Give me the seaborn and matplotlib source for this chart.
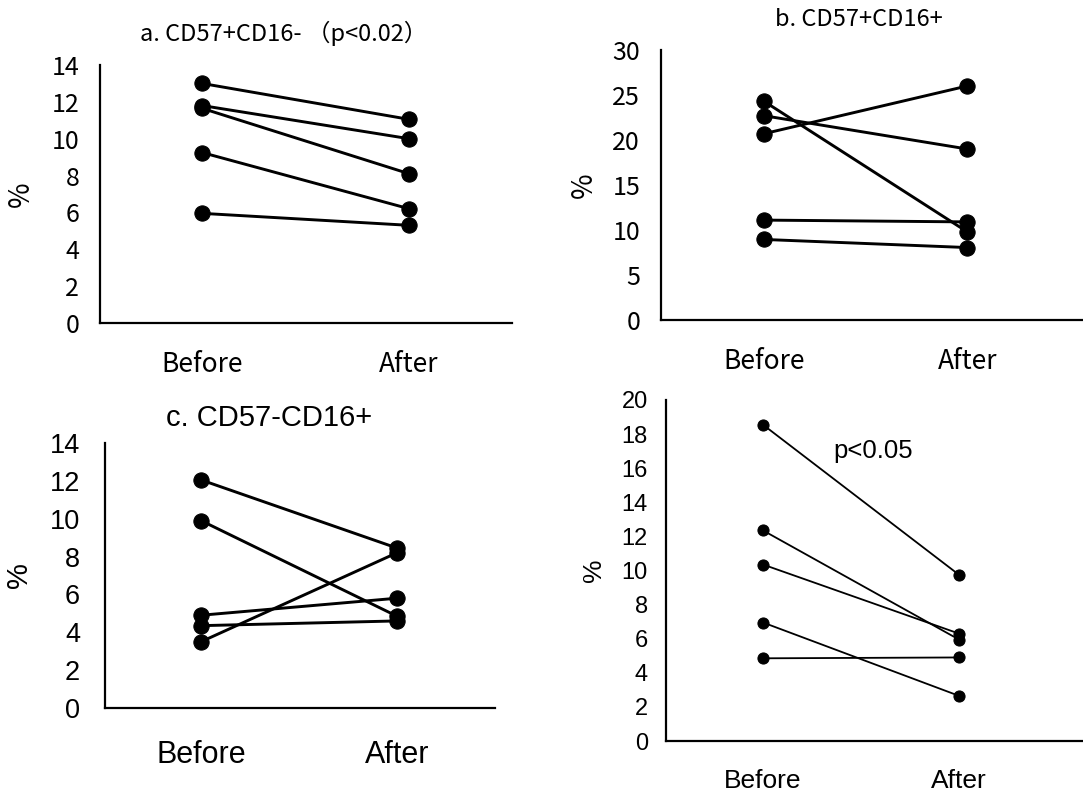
import matplotlib
matplotlib.use("Agg")
import matplotlib.pyplot as plt
import seaborn as sns
import pandas as pd

sns.set_theme(style="white")
plt.rcParams['font.family'] = ['Noto Sans CJK JP', 'DejaVu Sans']
plt.rcParams['text.color'] = 'black'
plt.rcParams['axes.labelcolor'] = 'black'
plt.rcParams['xtick.color'] = 'black'
plt.rcParams['ytick.color'] = 'black'

times = ["Before", "After"]

# panel a: CD57+CD16-
a_before = [13.0, 11.8, 11.65, 9.25, 5.95]
a_after = [11.05, 10.0, 8.1, 6.2, 5.3]
# panel b: CD57+CD16+
b_before = [24.3, 22.7, 20.7, 11.1, 8.95]
b_after = [9.8, 19.0, 26.0, 10.9, 8.05]
# panel c: CD57-CD16+
c_before = [12.05, 9.9, 4.9, 4.35, 3.5]
c_after = [8.45, 4.85, 5.8, 4.6, 8.2]
# panel d
d_before = [18.55, 12.35, 10.35, 6.95, 4.85]
d_after = [9.75, 5.95, 6.3, 2.65, 4.9]

titles = ["a. CD57+CD16- （p<0.02）", "b. CD57+CD16+", "c. CD57-CD16+", ""]
ylims = [(0, 14), (0, 30), (0, 14), (0, 20)]
ysteps = [2, 5, 2, 2]


def make_df(before, after):
    rows = []
    for i, (b, a) in enumerate(zip(before, after)):
        rows.append({"subject": i, "x": times.index("Before"), "value": b})
        rows.append({"subject": i, "x": times.index("After"), "value": a})
    return pd.DataFrame(rows)


fig = plt.figure(figsize=(10.83, 7.93), dpi=100)

W, H = 1083, 793
def ax_at(l, r, t, b):
    return fig.add_axes([l / W, (H - b) / H, (r - l) / W, (b - t) / H])

axes = [
    ax_at(100, 512, 65, 323),
    ax_at(661, 1083, 50, 320),
    ax_at(105, 495, 443, 708),
    ax_at(666, 1083, 400, 741),
]
xlims = [(-0.493, 1.497), (-0.507, 1.57), (-0.49, 1.50), (-0.495, 1.633)]
datasets = [(a_before, a_after), (b_before, b_after), (c_before, c_after), (d_before, d_after)]
fonts = [['Noto Sans CJK JP', 'DejaVu Sans'], ['Noto Sans CJK JP', 'DejaVu Sans'],
         ['Liberation Sans'], ['Liberation Sans']]
tick_fs = [18, 18, 19.5, 17]
tick_pad = [15, 15, 18, 13]
xlab_fs = [19, 19, 22, 19]
xlab_pad = [20, 20, 23, 20]
pct_fs = [20, 20, 21, 19]
pct_pad = [11, 10, 12, 11]
msizes = [11, 11, 11, 8]
lws = [2.1, 2.1, 2.1, 1.3]

for k, ax in enumerate(axes):
    df = make_df(*datasets[k])
    sns.lineplot(data=df, x="x", y="value", units="subject", estimator=None,
                 color="black", marker="o", markersize=msizes[k],
                 markeredgecolor="black", linewidth=lws[k], ax=ax, legend=False)
    ax.set_xlim(*xlims[k])
    ax.set_ylim(*ylims[k])
    lo, hi = ylims[k]
    ax.set_yticks(list(range(lo, hi + 1, ysteps[k])))
    ax.set_xticks(range(len(times)))
    ax.set_xticklabels(times, fontsize=xlab_fs[k], family=fonts[k])
    for lab in ax.get_yticklabels():
        lab.set_fontsize(tick_fs[k])
        lab.set_family(fonts[k])
    ax.tick_params(axis="y", direction="in", length=8, width=1.5, pad=tick_pad[k], colors="black")
    ax.tick_params(axis="x", length=0, pad=xlab_pad[k], colors="black")
    for s in ["top", "right"]:
        ax.spines[s].set_visible(False)
    for s in ["left", "bottom"]:
        ax.spines[s].set_color("black")
        ax.spines[s].set_linewidth(1.6)
    ax.set_xlabel("")
    ax.set_ylabel("%", fontsize=pct_fs[k], family=fonts[k], labelpad=pct_pad[k])
    ax.set_facecolor("white")

fig.text(284 / W, 1 - 33 / H, titles[0], ha="center", va="center", fontsize=17,
         family=fonts[0])
fig.text(859 / W, 1 - 19 / H, titles[1], ha="center", va="center", fontsize=17,
         family=fonts[1])
fig.text(269 / W, 1 - 418 / H, titles[2], ha="center", va="center", fontsize=21,
         family=fonts[2])
axes[3].text(0.36, 17.0, "p<0.05", ha="left", va="center", fontsize=18.5,
             family=fonts[3])

fig.savefig("out.png", dpi=100, facecolor="white")
